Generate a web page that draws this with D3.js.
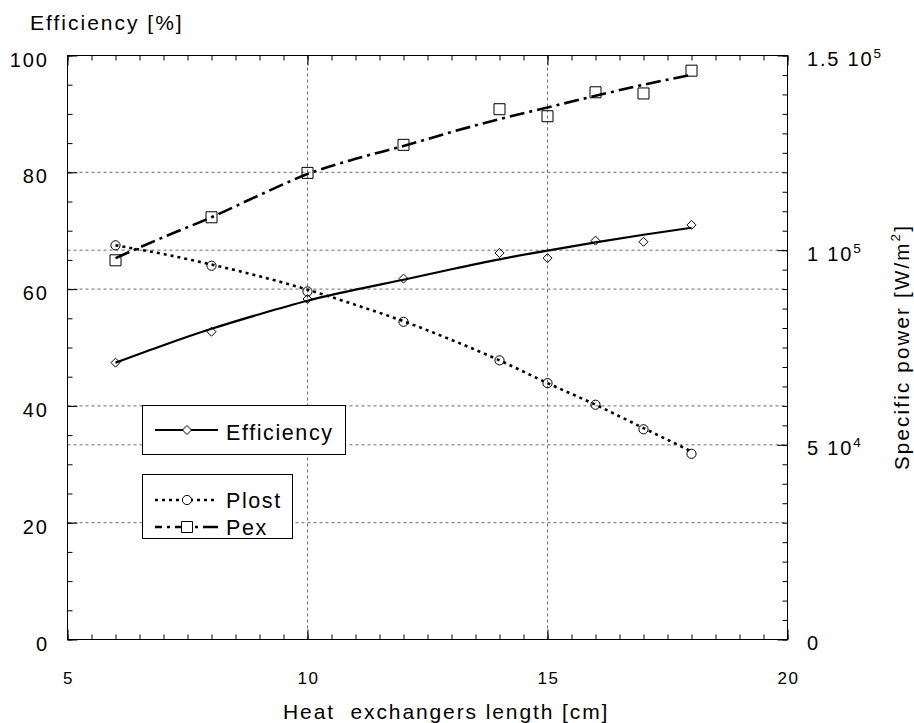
<!DOCTYPE html>
<html>
<head>
<meta charset="utf-8">
<script src="https://cdn.jsdelivr.net/npm/d3@7/dist/d3.min.js"></script>
<style>
  html, body { margin: 0; padding: 0; background: #fff; }
  svg { display: block; }
  text { font-family: "Liberation Sans", Arial, Helvetica, sans-serif; fill: #000; }
</style>
</head>
<body>
<svg id="chart" width="914" height="723"></svg>
<script>
// Measured heat-exchanger lengths [cm]
const lengths = [6, 8, 10, 12, 14, 15, 16, 17, 18];
// Efficiency [%] at each length
const efficiency = [47.4, 52.7, 58.3, 61.8, 66.2, 65.3, 68.3, 68.1, 71.0];
// Lost power and exchanged power [W/m2]
const plost = [101250, 96000, 89400, 81600, 71700, 65850, 60300, 54000, 47700];
const pex = [97400, 108450, 119850, 127050, 136200, 134400, 140550, 140250, 146100];

// Smoothed fit curves through the measurements
const fitLengths = [6, 7, 8, 9, 10, 11, 12, 13, 14, 15, 16, 17, 18];
const efficiencyFit = [47.4, 50.4, 53.2, 55.7, 58.0, 59.9, 61.6, 63.4, 65.1, 66.6, 68.0, 69.3, 70.5];
const plostFit = [101250, 99000, 96300, 93300, 89850, 85950, 81750, 76950, 71700, 65850, 60300, 54300, 48300];
const pexFit = [97950, 103350, 108450, 114150, 119550, 123450, 126750, 130350, 133650, 136650, 139650, 142500, 145050];

// Tick labels
const xTickValues = [5, 10, 15, 20];
const leftTickValues = [0, 20, 40, 60, 80, 100];
const rightTickValues = [0, 50000, 100000, 150000];
const rightTickMantissa = ["0", "5", "1", "1.5"];
const rightTickExponent = [null, 4, 5, 5];

const svg = d3.select("#chart");

const x = d3.scaleLinear().domain([5, 20]).range([67.5, 787.5]);
const yL = d3.scaleLinear().domain([0, 100]).range([639.5, 55.5]);
const yR = d3.scaleLinear().domain([0, 150000]).range([639.5, 55.5]);

const [x0, x1] = x.range();
const [yB, yT] = yL.range();

// Dotted grid
const grid = svg.append("g")
  .attr("stroke", "#6a6a6a").attr("stroke-width", 1).attr("stroke-dasharray", "3,3").attr("fill", "none");
[10, 15].forEach(v => grid.append("line")
  .attr("x1", x(v)).attr("x2", x(v)).attr("y1", yT).attr("y2", yB));
[20, 40, 60, 80].forEach(v => grid.append("line")
  .attr("x1", x0).attr("x2", x1).attr("y1", yL(v)).attr("y2", yL(v)));
[50000, 100000].forEach(v => grid.append("line")
  .attr("x1", x0).attr("x2", x1).attr("y1", yR(v)).attr("y2", yR(v)));

// Inward ticks on all four sides
function ticks(axis, transform) {
  const g = svg.append("g").attr("transform", transform).call(axis);
  g.select(".domain").remove();
  g.selectAll("line").attr("stroke", "#000").attr("stroke-width", 1);
  g.selectAll("text").remove();
}
const xMinor = d3.range(5, 20.001, 0.5);
ticks(d3.axisTop(x).tickValues(xMinor).tickSize(5).tickFormat(""), `translate(0,${yB})`);
ticks(d3.axisTop(x).tickValues(xTickValues).tickSize(10).tickFormat(""), `translate(0,${yB})`);
ticks(d3.axisBottom(x).tickValues(xMinor).tickSize(5).tickFormat(""), `translate(0,${yT})`);
ticks(d3.axisBottom(x).tickValues(xTickValues).tickSize(10).tickFormat(""), `translate(0,${yT})`);
ticks(d3.axisRight(yL).tickValues(d3.range(0, 100.001, 5)).tickSize(5).tickFormat(""), `translate(${x0},0)`);
ticks(d3.axisRight(yL).tickValues(leftTickValues).tickSize(10).tickFormat(""), `translate(${x0},0)`);
ticks(d3.axisLeft(yR).tickValues(d3.range(0, 150001, 5000)).tickSize(5).tickFormat(""), `translate(${x1},0)`);
ticks(d3.axisLeft(yR).tickValues(rightTickValues).tickSize(10).tickFormat(""), `translate(${x1},0)`);

// Plot frame
svg.append("rect")
  .attr("x", x0).attr("y", yT).attr("width", x1 - x0).attr("height", yB - yT)
  .attr("fill", "none").attr("stroke", "#000").attr("stroke-width", 1);

// Tick labels
svg.append("g").selectAll("text").data(xTickValues).join("text")
  .attr("x", d => x(d) + 1).attr("y", 684)
  .attr("text-anchor", "middle")
  .style("font-size", "17px").style("letter-spacing", "1.6px")
  .text(d => d);

svg.append("g").selectAll("text").data(leftTickValues).join("text")
  .attr("x", 49).attr("y", d => yL(d) + 11)
  .attr("text-anchor", "end")
  .style("font-size", "20px").style("letter-spacing", "2px")
  .text(d => d);

const rl = svg.append("g").selectAll("text").data(rightTickValues).join("text")
  .attr("x", 807).attr("y", d => yR(d) + 10.5)
  .style("font-size", "20px").style("letter-spacing", "1.8px");
rl.append("tspan").text((d, i) => rightTickMantissa[i] + (rightTickExponent[i] ? " 10" : ""));
rl.filter((d, i) => rightTickExponent[i] !== null).append("tspan")
  .attr("dy", -8).style("font-size", "13.5px")
  .text(d => rightTickExponent[rightTickValues.indexOf(d)]);

// Axis titles
svg.append("text").attr("x", 30).attr("y", 30)
  .style("font-size", "21px").style("letter-spacing", "2px")
  .text("Efficiency [%]");

svg.append("text").attr("x", 283).attr("y", 719)
  .style("font-size", "21px").style("letter-spacing", "1.9px").style("white-space", "pre")
  .text("Heat  exchangers length [cm]");

const rt = svg.append("text")
  .attr("transform", "translate(909,470) rotate(-90)")
  .style("font-size", "20.5px").style("letter-spacing", "2.2px");
rt.append("tspan").text("Specific power [W/m");
rt.append("tspan").attr("dy", -9).style("font-size", "13.5px").text("2");
rt.append("tspan").attr("dy", 9).text("]");

// Series styles
const series = [
  { name: "Efficiency", y: yL, pts: efficiency, fit: efficiencyFit, dash: null, width: 2.2, marker: "diamond", legendOffset: 0 },
  { name: "Plost", y: yR, pts: plost, fit: plostFit, dash: "3,4", width: 2.6, marker: "circle", legendOffset: 0 },
  { name: "Pex", y: yR, pts: pex, fit: pexFit, dash: "15,5,3,5", width: 2.6, marker: "square", legendOffset: 8 }
];

const markerPath = {
  diamond: "M0,-4.5L4.5,0L0,4.5L-4.5,0Z",
  circle: "M4.6,0A4.6,4.6 0 1,1 -4.6,0A4.6,4.6 0 1,1 4.6,0Z",
  square: "M-5.5,-5.5H5.5V5.5H-5.5Z"
};

const plot = svg.append("g");
series.forEach(s => {
  const line = d3.line()
    .x((d, i) => x(fitLengths[i]))
    .y(d => s.y(d))
    .curve(d3.curveMonotoneX);
  plot.append("path")
    .datum(s.fit)
    .attr("d", line)
    .attr("fill", "none").attr("stroke", "#000")
    .attr("stroke-width", s.width)
    .attr("stroke-dasharray", s.dash);
  plot.append("g").selectAll("path").data(s.pts).join("path")
    .attr("transform", (d, i) => `translate(${x(lengths[i])},${s.y(d)})`)
    .attr("d", markerPath[s.marker])
    .attr("fill", "none").attr("stroke", "#000").attr("stroke-width", 1);
});

// Legends
function legendEntry(g, s, ly, ty) {
  g.append("line").attr("x1", 155).attr("x2", 218).attr("y1", ly).attr("y2", ly)
    .attr("stroke", "#000").attr("stroke-width", s.width)
    .attr("stroke-dasharray", s.dash).attr("stroke-dashoffset", s.legendOffset);
  g.append("path").attr("transform", `translate(187,${ly})`)
    .attr("d", markerPath[s.marker]).attr("fill", "#fff").attr("stroke", "#000").attr("stroke-width", 1);
  g.append("text").attr("x", 226).attr("y", ty)
    .style("font-size", "21.5px").style("letter-spacing", "1.6px").text(s.name);
}

const leg1 = svg.append("g");
leg1.append("rect").attr("x", 142.5).attr("y", 405.5).attr("width", 203).attr("height", 49)
  .attr("fill", "#fff").attr("stroke", "#000").attr("stroke-width", 1);
legendEntry(leg1, series[0], 430, 440);

const leg2 = svg.append("g");
leg2.append("rect").attr("x", 142.5).attr("y", 474.5).attr("width", 150).attr("height", 64)
  .attr("fill", "#fff").attr("stroke", "#000").attr("stroke-width", 1);
legendEntry(leg2, series[1], 500, 508);
legendEntry(leg2, series[2], 527, 535);
</script>
</body>
</html>
